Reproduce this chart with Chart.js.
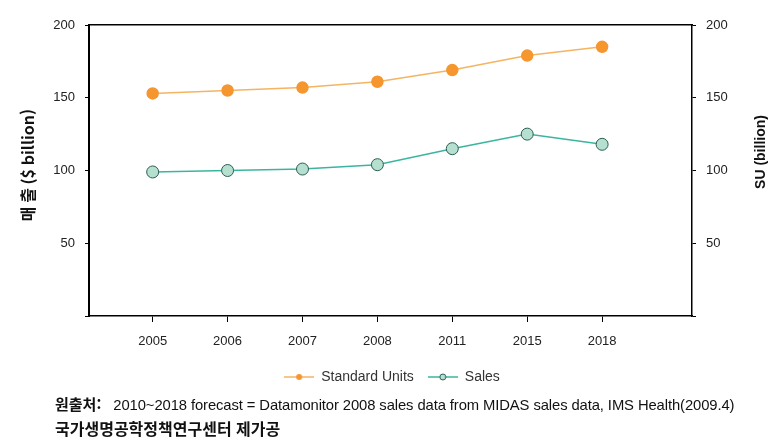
<!DOCTYPE html>
<html lang="ko">
<head>
    <meta charset="UTF-8">
    <title>Standard Units vs Sales</title>
    <script src="https://cdn.jsdelivr.net/npm/chart.js"></script>
    <style>
        body { margin: 0; background: #fff; font-family: "Liberation Sans", Arial, sans-serif; }
        .wrap { position: relative; width: 784px; height: 448px; }
        #chart { position: absolute; left: 0; top: 0; }
        .note { position: absolute; left: 55px; color: #111; white-space: nowrap; }
        .note1 { top: 393px; font-family: "Liberation Sans", sans-serif; font-size: 14.8px; letter-spacing: -0.1px; }
        .note1 b { font-family: "Noto Sans CJK KR", sans-serif; font-size: 15px; letter-spacing: 0; }
        .note2 { top: 416px; font-family: "Noto Sans CJK KR", sans-serif; font-weight: bold; font-size: 16px; }
    </style>
</head>
<body>
    <div class="wrap">
        <canvas id="chart" width="784" height="448"></canvas>
        <div class="note note1"><b>원출처:</b>&nbsp;&nbsp; 2010~2018 forecast = Datamonitor 2008 sales data from MIDAS sales data, IMS Health(2009.4)</div>
        <div class="note note2">국가생명공학정책연구센터 제가공</div>
    </div>

    <script>
        // data
        const years = ['2005', '2006', '2007', '2008', '2011', '2015', '2018'];
        const standardUnits = [153, 155, 157, 161, 169, 179, 185];
        const sales = [99, 100, 101, 104, 115, 125, 118];
        const yTicks = [50, 100, 150, 200];

        const orange = '#f5962f';
        const orangeLine = '#f4b462';
        const tealLine = '#3bb59f';
        const tealFill = '#b5dfcf';
        const tealBorder = '#2b5e54';

        // small legend icon: line with a dot in the middle
        function legendIcon(lineColor, fill, border) {
            const c = document.createElement('canvas');
            c.width = 30; c.height = 10;
            const g = c.getContext('2d');
            g.strokeStyle = lineColor;
            g.lineWidth = 1.5;
            g.beginPath(); g.moveTo(0, 5); g.lineTo(30, 5); g.stroke();
            g.beginPath(); g.arc(15, 5, 3, 0, Math.PI * 2);
            g.fillStyle = fill; g.fill();
            if (border) { g.strokeStyle = border; g.lineWidth = 1; g.stroke(); }
            return c;
        }

        const toPoints = arr => arr.map((v, i) => ({ x: i, y: v }));

        // both axis titles read bottom-to-top
        const axisTitles = {
            id: 'axisTitles',
            afterDraw(chart) {
                const ctx = chart.ctx;
                const draw = (text, x, y, font) => {
                    ctx.save();
                    ctx.translate(x, y);
                    ctx.rotate(-Math.PI / 2);
                    ctx.font = font;
                    ctx.fillStyle = '#111';
                    ctx.textAlign = 'center';
                    ctx.textBaseline = 'middle';
                    ctx.fillText(text, 0, 0);
                    ctx.restore();
                };
                draw('매 출 ($ billion)', 28, 165, 'bold 16px "Noto Sans CJK KR", "Liberation Sans", sans-serif');
                draw('SU (billion)', 761, 152, 'bold 14px "Liberation Sans", Arial, sans-serif');
            }
        };

        const tickFont = { family: '"Liberation Sans", Arial, sans-serif', size: 13 };

        new Chart(document.getElementById('chart'), {
            type: 'line',
            data: {
                datasets: [
                    {
                        label: 'Standard Units',
                        data: toPoints(standardUnits),
                        borderColor: orangeLine,
                        borderWidth: 1.5,
                        pointBackgroundColor: orange,
                        pointBorderColor: orange,
                        pointRadius: 5.5,
                        tension: 0,
                        yAxisID: 'y'
                    },
                    {
                        label: 'Sales',
                        data: toPoints(sales),
                        borderColor: tealLine,
                        borderWidth: 1.5,
                        pointBackgroundColor: tealFill,
                        pointBorderColor: tealBorder,
                        pointBorderWidth: 1,
                        pointRadius: 6,
                        tension: 0,
                        yAxisID: 'y'
                    }
                ]
            },
            options: {
                responsive: false,
                animation: false,
                layout: { padding: { top: 25, bottom: 54, left: 0, right: 0 } },
                scales: {
                    x: {
                        type: 'linear',
                        min: -0.85,
                        max: 7.2,
                        afterBuildTicks: s => { s.ticks = years.map((_, i) => ({ value: i })); },
                        afterFit: s => { s.height = 40; },
                        ticks: {
                            callback: v => years[v] ?? '',
                            color: '#222',
                            font: tickFont,
                            padding: 12,
                            maxRotation: 0
                        },
                        grid: { drawOnChartArea: false, color: '#000', tickLength: 6 },
                        border: { color: '#000', width: 1.5 }
                    },
                    xTop: {
                        type: 'linear',
                        position: 'top',
                        min: -0.85,
                        max: 7.2,
                        ticks: { display: false },
                        grid: { drawOnChartArea: false, drawTicks: false },
                        border: { color: '#000', width: 1.5 },
                        afterFit: s => { s.height = 0; }
                    },
                    y: {
                        position: 'left',
                        min: 0,
                        max: 200,
                        afterBuildTicks: s => { s.ticks = [0, ...yTicks].map(v => ({ value: v })); },
                        afterFit: s => { s.width = 89; },
                        ticks: {
                            callback: v => v === 0 ? '' : v,
                            color: '#222',
                            font: tickFont,
                            padding: 10
                        },
                        grid: { drawOnChartArea: false, color: '#000', tickLength: 4 },
                        border: { color: '#000', width: 2 }
                    },
                    y2: {
                        position: 'right',
                        min: 0,
                        max: 200,
                        afterBuildTicks: s => { s.ticks = [0, ...yTicks].map(v => ({ value: v })); },
                        afterFit: s => { s.width = 92; },
                        ticks: {
                            callback: v => v === 0 ? '' : v,
                            color: '#222',
                            font: tickFont,
                            padding: 10
                        },
                        grid: { drawOnChartArea: false, color: '#000', tickLength: 4 },
                        border: { color: '#000', width: 1.5 }
                    }
                },
                plugins: {
                    tooltip: { enabled: false },
                    legend: {
                        position: 'bottom',
                        labels: {
                            usePointStyle: true,
                            pointStyleWidth: 30,
                            color: '#333',
                            font: { family: '"Liberation Sans", sans-serif', size: 14 },
                            padding: 14,
                            generateLabels: chart => chart.data.datasets.map((ds, i) => ({
                                text: ds.label,
                                datasetIndex: i,
                                fontColor: '#333',
                                pointStyle: i === 0
                                    ? legendIcon(orangeLine, orange, null)
                                    : legendIcon(tealLine, tealFill, tealBorder),
                                lineWidth: 0,
                                strokeStyle: 'transparent',
                                fillStyle: 'transparent'
                            }))
                        }
                    }
                }
            },
            plugins: [axisTitles]
        });
    </script>
</body>
</html>
